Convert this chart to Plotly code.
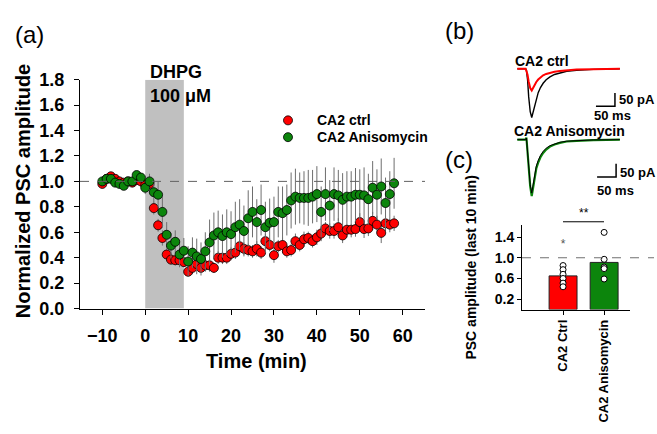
import plotly.graph_objects as go

W, H = 657, 434
FONT = "Liberation Sans, Arial, sans-serif"

# ---------------- Panel (a) data ----------------
time_min = list(range(-10, 59))
ctrl_mean = [0.98, 1.02, 1.04, 1.02, 1.00, 0.99, 1.00, 0.99, 1.01, 1.00,
             0.97, 0.98, 0.79, 0.655, 0.555, 0.425, 0.385, 0.38, 0.38, 0.365,
             0.29, 0.32, 0.35, 0.32, 0.34, 0.34, 0.32, 0.40, 0.40, 0.40,
             0.43, 0.44, 0.49, 0.47, 0.46, 0.45, 0.47, 0.44, 0.53, 0.50,
             0.42, 0.49, 0.50, 0.45, 0.46, 0.53, 0.50, 0.545, 0.555, 0.53,
             0.56, 0.59, 0.63, 0.61, 0.61, 0.64, 0.575, 0.62, 0.62, 0.625,
             0.68, 0.625, 0.63, 0.69, 0.66, 0.595, 0.67, 0.66, 0.67]
ctrl_sem = [0.03, 0.02, 0.03, 0.02, 0.02, 0.03, 0.02, 0.02, 0.03, 0.02,
            0.03, 0.04, 0.05, 0.05, 0.06, 0.05, 0.04, 0.04, 0.04, 0.04,
            0.04, 0.05, 0.05, 0.04, 0.05, 0.05, 0.04, 0.05, 0.05, 0.05,
            0.05, 0.05, 0.05, 0.05, 0.05, 0.05, 0.06, 0.05, 0.06, 0.05,
            0.06, 0.05, 0.06, 0.05, 0.05, 0.06, 0.05, 0.06, 0.05, 0.05,
            0.06, 0.06, 0.05, 0.06, 0.06, 0.07, 0.06, 0.06, 0.06, 0.06,
            0.07, 0.07, 0.06, 0.07, 0.07, 0.08, 0.06, 0.06, 0.06]
aniso_mean = [1.00, 1.02, 1.02, 0.99, 0.98, 0.965, 1.00, 1.00, 1.05, 1.03,
              0.95, 1.00, 0.915, 0.895, 0.76, 0.58, 0.495, 0.525, 0.425, 0.455,
              0.37, 0.44, 0.41, 0.39, 0.45, 0.52, 0.575, 0.60, 0.57, 0.60,
              0.585, 0.64, 0.66, 0.61, 0.71, 0.76, 0.68, 0.775, 0.64, 0.675,
              0.68, 0.76, 0.75, 0.775, 0.85, 0.88, 0.87, 0.87, 0.87, 0.88,
              0.90, 0.76, 0.90, 0.81, 0.90, 0.89, 0.855, 0.88, 0.88, 0.895,
              0.895, 0.89, 0.86, 0.95, 0.895, 0.96, 0.83, 0.90, 0.985]
aniso_sem = [0.03, 0.03, 0.02, 0.03, 0.03, 0.03, 0.02, 0.03, 0.03, 0.03,
             0.05, 0.06, 0.08, 0.10, 0.12, 0.10, 0.10, 0.09, 0.10, 0.10,
             0.12, 0.12, 0.14, 0.13, 0.15, 0.18, 0.18, 0.17, 0.17, 0.18,
             0.18, 0.20, 0.20, 0.20, 0.22, 0.20, 0.18, 0.20, 0.20, 0.19,
             0.20, 0.20, 0.21, 0.20, 0.22, 0.22, 0.20, 0.21, 0.22, 0.21,
             0.22, 0.20, 0.21, 0.20, 0.21, 0.20, 0.21, 0.20, 0.20, 0.21,
             0.20, 0.22, 0.20, 0.21, 0.20, 0.22, 0.20, 0.18, 0.20]
x_ticks = [-10, 0, 10, 20, 30, 40, 50, 60]
y_ticks = [0.0, 0.2, 0.4, 0.6, 0.8, 1.0, 1.2, 1.4, 1.6, 1.8]
dhpg_window = [0, 9]
series_names = ["CA2 ctrl", "CA2 Anisomycin"]

# ---------------- Panel (b) data (sampled traces) ----------------
trace_t_ms = [0, 22, 24, 27, 30, 34, 38, 42, 46, 50, 55, 61, 68, 76, 86, 98, 112, 130, 156, 200, 270]
ctrl_before_pA = [0, 0, -4, -40, -105, -160, -182, -162, -137, -112, -89, -70, -54, -41, -30, -21, -15, -9, -5.5, -2, 0]
ctrl_after_pA = [0, 0, -8, -22, -48, -72, -81, -70, -58, -49, -40, -31, -24, -19, -14.5, -11, -8, -5, -2.5, -1, 0]
aniso_after_pA = [0, 0, 8, -55, -105, -175, -211, -178, -133, -108, -86, -66, -50, -37, -26, -18, -12, -7, -4.6, -1.5, 0]
aniso_before_pA = [0, 0, 6, -50, -100, -168, -200, -165, -124, -99, -78, -59, -44, -32, -22.5, -15.5, -10, -5.8, -3.4, -1, 0]
scale_ms = 50
scale_pA = 50

# ---------------- Panel (c) data ----------------
bar_categories = ["CA2 Ctrl", "CA2 Anisomycin"]
bar_means = [0.65, 0.91]
ctrl_cells = [0.85, 0.77, 0.68, 0.60, 0.51, 0.44]
aniso_cells = [1.49, 0.97, 0.82, 0.79, 0.59]
ctrl_outlier = [1.24]
c_ticks = [0.2, 0.6, 1.0, 1.4]

RED = "#ff0000"
GREEN = "#0c850c"

fig = go.Figure()

# Panel (a)
fig.add_trace(go.Scatter(
    x=time_min, y=ctrl_mean, mode="markers", name=series_names[0],
    marker=dict(color=RED, size=9, line=dict(color="black", width=0.8)),
    error_y=dict(type="data", array=ctrl_sem, color="#6e6e6e", thickness=1, width=0),
    xaxis="x", yaxis="y", showlegend=False))
fig.add_trace(go.Scatter(
    x=time_min, y=aniso_mean, mode="markers", name=series_names[1],
    marker=dict(color=GREEN, size=9, line=dict(color="black", width=0.8)),
    error_y=dict(type="data", array=aniso_sem, color="#6e6e6e", thickness=1, width=0),
    xaxis="x", yaxis="y", showlegend=False))

# Panel (b)
ANISO_OFFSET = -265
fig.add_trace(go.Scatter(x=trace_t_ms, y=ctrl_before_pA, mode="lines",
                         line=dict(color="black", width=1.4), showlegend=False,
                         xaxis="x2", yaxis="y2"))
fig.add_trace(go.Scatter(x=trace_t_ms, y=ctrl_after_pA, mode="lines",
                         line=dict(color=RED, width=2), showlegend=False,
                         xaxis="x2", yaxis="y2"))
fig.add_trace(go.Scatter(x=trace_t_ms, y=[v + ANISO_OFFSET for v in aniso_after_pA], mode="lines",
                         line=dict(color=GREEN, width=2.2), showlegend=False,
                         xaxis="x2", yaxis="y2"))
fig.add_trace(go.Scatter(x=trace_t_ms, y=[v + ANISO_OFFSET for v in aniso_before_pA], mode="lines",
                         line=dict(color="black", width=1), showlegend=False,
                         xaxis="x2", yaxis="y2"))
for base, sx0 in [(0, 207), (ANISO_OFFSET, 210)]:
    yb = base - 140
    fig.add_trace(go.Scatter(x=[sx0, sx0 + scale_ms, sx0 + scale_ms],
                             y=[yb, yb, yb + scale_pA], mode="lines",
                             line=dict(color="black", width=1.5), showlegend=False,
                             xaxis="x2", yaxis="y2"))

# Panel (c)
fig.add_trace(go.Bar(x=bar_categories, y=bar_means, width=0.68,
                     marker=dict(color=[RED, GREEN], line=dict(color="#202020", width=1)),
                     showlegend=False, xaxis="x3", yaxis="y3"))
fig.add_trace(go.Scatter(x=[bar_categories[0]] * len(ctrl_cells), y=ctrl_cells, mode="markers",
                         marker=dict(color="white", size=6, line=dict(color="black", width=1)),
                         showlegend=False, xaxis="x3", yaxis="y3"))
fig.add_trace(go.Scatter(x=[bar_categories[1]] * len(aniso_cells), y=aniso_cells, mode="markers",
                         marker=dict(color="white", size=6, line=dict(color="black", width=1)),
                         showlegend=False, xaxis="x3", yaxis="y3"))
fig.add_trace(go.Scatter(x=[bar_categories[0]], y=ctrl_outlier, mode="text", text=["*"],
                         textfont=dict(size=12, color="#555555"), showlegend=False,
                         xaxis="x3", yaxis="y3"))

# Custom legend glyphs on an invisible pixel-space overlay axis
LEG_X, LEG_Y0, LEG_DY = 288, 115.7, 17.6
fig.add_trace(go.Scatter(x=[LEG_X, LEG_X], y=[LEG_Y0, LEG_Y0 + LEG_DY], mode="markers",
                         marker=dict(color=[RED, GREEN], size=9, line=dict(color="black", width=0.8)),
                         showlegend=False, hoverinfo="skip", xaxis="x4", yaxis="y4"))

def px_x(v):
    return v / W

def px_y(v):
    return 1 - v / H

axis_common = dict(showline=True, linecolor="black", linewidth=1, showgrid=False,
                   zeroline=False, ticks="outside", tickcolor="black", tickwidth=1)

shapes = [
    dict(type="rect", xref="x", yref="y", x0=dhpg_window[0], x1=dhpg_window[1], y0=0, y1=1.8,
         fillcolor="#c0c0c0", line=dict(width=0), layer="below"),
    dict(type="line", xref="x", yref="y", x0=-15.2, x1=65.2, y0=1.0, y1=1.0,
         line=dict(color="#606060", width=1, dash="dash"), layer="above"),
    dict(type="line", xref="paper", yref="y3", x0=px_x(522), x1=px_x(654), y0=1.0, y1=1.0,
         line=dict(color="#707070", width=1.2, dash="dash"), layer="above"),
    dict(type="line", xref="paper", yref="paper", x0=px_x(563), x1=px_x(604), y0=px_y(222), y1=px_y(222),
         line=dict(color="black", width=1)),
]

def ann(text, x, y, size, bold=True, xanchor="center", angle=0, xref="paper", yref="paper", color="black"):
    return dict(text=text, x=x, y=y, xref=xref, yref=yref, showarrow=False,
                xanchor=xanchor, yanchor="middle", textangle=angle,
                font=dict(family=FONT, size=size, color=color, weight="bold" if bold else "normal"))

annotations = [
    ann("(a)", px_x(29), px_y(26), 24, bold=False),
    ann("(b)", px_x(459), px_y(22), 24, bold=False),
    ann("(c)", px_x(459), px_y(157), 24, bold=False),
    ann("Normalized PSC amplitude", px_x(23), px_y(190), 20, angle=-90),
    ann("Time (min)", px_x(256), px_y(368), 20),
    ann("DHPG", px_x(148), px_y(65), 18, xanchor="left"),
    ann("100 μM", px_x(148), px_y(90), 18, xanchor="left"),
    ann(series_names[0], px_x(315), px_y(LEG_Y0), 14, xanchor="left"),
    ann(series_names[1], px_x(315), px_y(LEG_Y0 + LEG_DY), 14, xanchor="left"),
    ann("PSC amplitude (last 10 min)", px_x(471), px_y(270), 14, angle=-90),
    ann("**", px_x(583.5), px_y(213), 12, bold=False),
    ann("CA2 ctrl", -12.5, 31, 14, xanchor="left", xref="x2", yref="y2"),
    ann("CA2 Anisomycin", -15, -232, 14, xanchor="left", xref="x2", yref="y2"),
    ann("50 pA", 262, -114, 13, xanchor="left", xref="x2", yref="y2"),
    ann("50 ms", 251, -174, 13, xref="x2", yref="y2"),
    ann("50 pA", 264, -387, 13, xanchor="left", xref="x2", yref="y2"),
    ann("50 ms", 259, -457, 13, xref="x2", yref="y2"),
]

fig.update_layout(
    width=W, height=H, autosize=False,
    margin=dict(l=0, r=0, t=0, b=0),
    paper_bgcolor="white", plot_bgcolor="rgba(0,0,0,0)",
    font=dict(family=FONT, color="black"),
    xaxis=dict(domain=[px_x(80), px_x(425)], range=[-15.2, 65.2], tickvals=x_ticks,
               ticklen=5, ticklabelstandoff=6, anchor="y",
               tickfont=dict(family=FONT, size=18, weight="bold", color="black"), **axis_common),
    yaxis=dict(domain=[px_y(313), px_y(73)], range=[0, 1.8], tickvals=y_ticks,
               tickformat=".1f", ticklen=5, ticklabelstandoff=6, anchor="x",
               tickfont=dict(family=FONT, size=18, weight="bold", color="black"), **axis_common),
    xaxis2=dict(domain=[px_x(500), px_x(655)], range=[-45.5, 362.4], visible=False, anchor="y2"),
    yaxis2=dict(domain=[px_y(200), px_y(40)], range=[-493.9, 77.5], visible=False, anchor="x2"),
    xaxis3=dict(domain=[px_x(522), px_x(630)], range=[-1.0, 1.63], type="category",
                tickangle=-90, ticklen=4, anchor="y3",
                tickfont=dict(family=FONT, size=13, weight="bold", color="black"), **axis_common),
    yaxis3=dict(domain=[px_y(314), px_y(225)], range=[0, 1.64], tickvals=c_ticks,
                tickformat=".1f", ticklen=4, anchor="x3",
                tickfont=dict(family=FONT, size=14, weight="bold", color="black"), **axis_common),
    xaxis4=dict(domain=[0, 1], range=[0, W], visible=False, anchor="y4"),
    yaxis4=dict(domain=[0, 1], range=[H, 0], visible=False, anchor="x4"),
    shapes=shapes, annotations=annotations,
    showlegend=False,
)

fig.write_html("out.html", config={"displayModeBar": False},
               post_script="document.body.style.margin='0';document.body.style.overflow='hidden';")
